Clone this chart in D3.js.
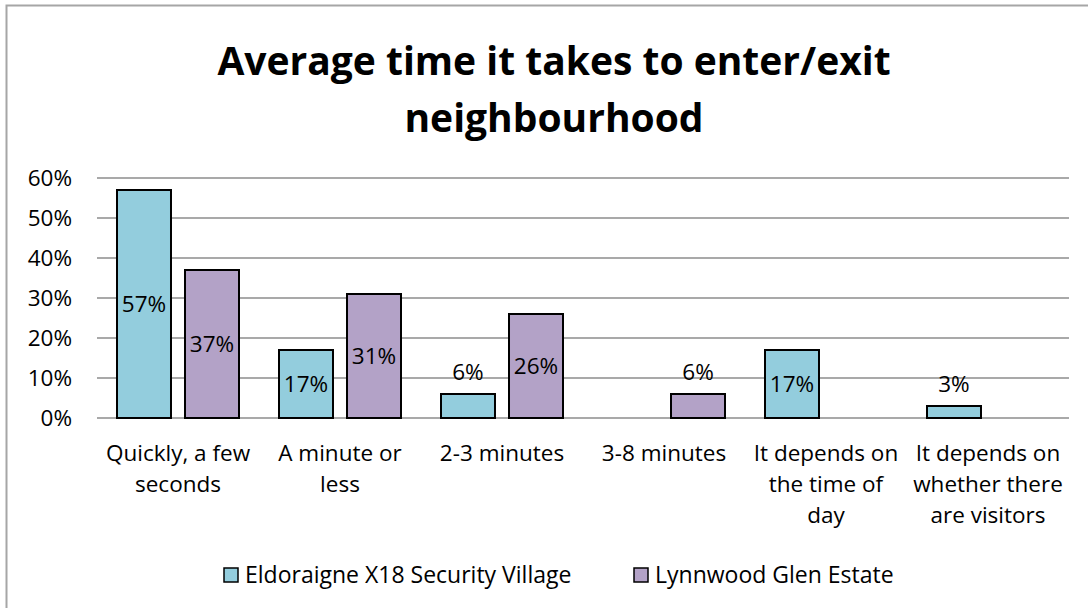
<!DOCTYPE html>
<html>
<head>
<meta charset="utf-8">
<script src="https://cdn.jsdelivr.net/npm/d3@7"></script>
<style>
  body { margin: 0; background: #fff; }
  svg { font-family: "Open Sans", sans-serif; }
</style>
</head>
<body>
<div id="chart"></div>
<script>
// chart data
const categories = [
  ["Quickly, a few", "seconds"],
  ["A minute or", "less"],
  ["2-3 minutes"],
  ["3-8 minutes"],
  ["It depends on", "the time of", "day"],
  ["It depends on", "whether there", "are visitors"]
];
const seriesNames = ["Eldoraigne X18 Security Village", "Lynnwood Glen Estate"];
const eldoraigne = [57, 17, 6, 0, 17, 3];
const lynnwood = [37, 31, 26, 6, 0, 0];
const yTicks = [0, 10, 20, 30, 40, 50, 60];
const titleLines = ["Average time it takes to enter/exit", "neighbourhood"];

const colors = ["#93cddd", "#b3a2c7"];
const width = 1088, height = 608;
const fs = 22.5; // body text size

const svg = d3.select("#chart").append("svg")
  .attr("width", width)
  .attr("height", height);

// outer chart border
svg.append("rect")
  .attr("x", 6.5).attr("y", 5.5)
  .attr("width", 1100).attr("height", 620)
  .attr("fill", "#fff")
  .attr("stroke", "#a6a6a6")
  .attr("stroke-width", 2);

// title
svg.append("text")
  .attr("text-anchor", "middle")
  .attr("font-weight", "bold")
  .attr("font-size", 39)
  .attr("fill", "#000")
  .selectAll("tspan")
  .data(titleLines)
  .join("tspan")
  .attr("x", 554)
  .attr("y", (d, i) => 75 + i * 57)
  .text(d => d);

const ids = d3.range(categories.length);
const x0 = d3.scaleBand().domain(ids).range([97, 1069])
  .paddingInner(40 / 162).paddingOuter(20 / 162);
const x1 = d3.scaleBand().domain([0, 1]).range([0, x0.bandwidth()])
  .paddingInner(0.206);
const y = d3.scaleLinear().domain([0, 60]).range([418, 178]);

// gridlines
svg.append("g")
  .selectAll("line")
  .data(yTicks)
  .join("line")
  .attr("x1", 97).attr("x2", 1069)
  .attr("y1", d => y(d)).attr("y2", d => y(d))
  .attr("stroke", "#8c8c8c")
  .attr("stroke-width", 1.5);

// y axis labels
const yAxis = svg.append("g")
  .attr("transform", "translate(72,0)")
  .call(d3.axisLeft(y).tickValues(yTicks).tickFormat(d => d + "%").tickSize(0).tickPadding(0));
yAxis.select(".domain").remove();
yAxis.selectAll("text")
  .attr("font-family", "Open Sans")
  .attr("font-size", fs)
  .attr("fill", "#000");

// bars
const rows = ids.map(i => [eldoraigne[i], lynnwood[i]]);
const groups = svg.append("g")
  .selectAll("g")
  .data(rows)
  .join("g")
  .attr("transform", (d, i) => `translate(${x0(i)},0)`);

const cells = groups.selectAll("g")
  .data(d => d.map((v, s) => ({ v, s })).filter(d => d.v > 0))
  .join("g");

cells.append("rect")
  .attr("x", d => x1(d.s))
  .attr("width", x1.bandwidth())
  .attr("y", d => y(d.v))
  .attr("height", d => y(0) - y(d.v))
  .attr("fill", d => colors[d.s])
  .attr("stroke", "#000")
  .attr("stroke-width", 2);

// data labels: centred in tall bars, above short ones
cells.append("text")
  .attr("x", d => x1(d.s) + x1.bandwidth() / 2)
  .attr("y", d => d.v >= 10 ? (y(d.v) + y(0)) / 2 : y(d.v) - 14)
  .attr("dy", d => d.v >= 10 ? "0.35em" : 0)
  .attr("text-anchor", "middle")
  .attr("font-size", fs)
  .attr("fill", "#000")
  .text(d => d.v + "%");

// category labels
svg.append("g")
  .selectAll("text")
  .data(categories)
  .join("text")
  .attr("text-anchor", "middle")
  .attr("font-size", fs)
  .attr("fill", "#000")
  .each(function (lines, i) {
    d3.select(this).selectAll("tspan")
      .data(lines)
      .join("tspan")
      .attr("x", x0(i) + x0.bandwidth() / 2)
      .attr("y", (d, k) => 461 + k * 31)
      .text(d => d);
  });

// legend
const legendX = [224, 634];
const legend = svg.append("g")
  .selectAll("g")
  .data(seriesNames)
  .join("g")
  .attr("transform", (d, i) => `translate(${legendX[i]},568)`);
legend.append("rect")
  .attr("width", 14).attr("height", 14)
  .attr("fill", (d, i) => colors[i])
  .attr("stroke", "#000")
  .attr("stroke-width", 1.5);
legend.append("text")
  .attr("x", 21).attr("y", 7)
  .attr("dy", "0.35em")
  .attr("font-size", 23)
  .attr("fill", "#000")
  .text(d => d);
</script>
</body>
</html>
